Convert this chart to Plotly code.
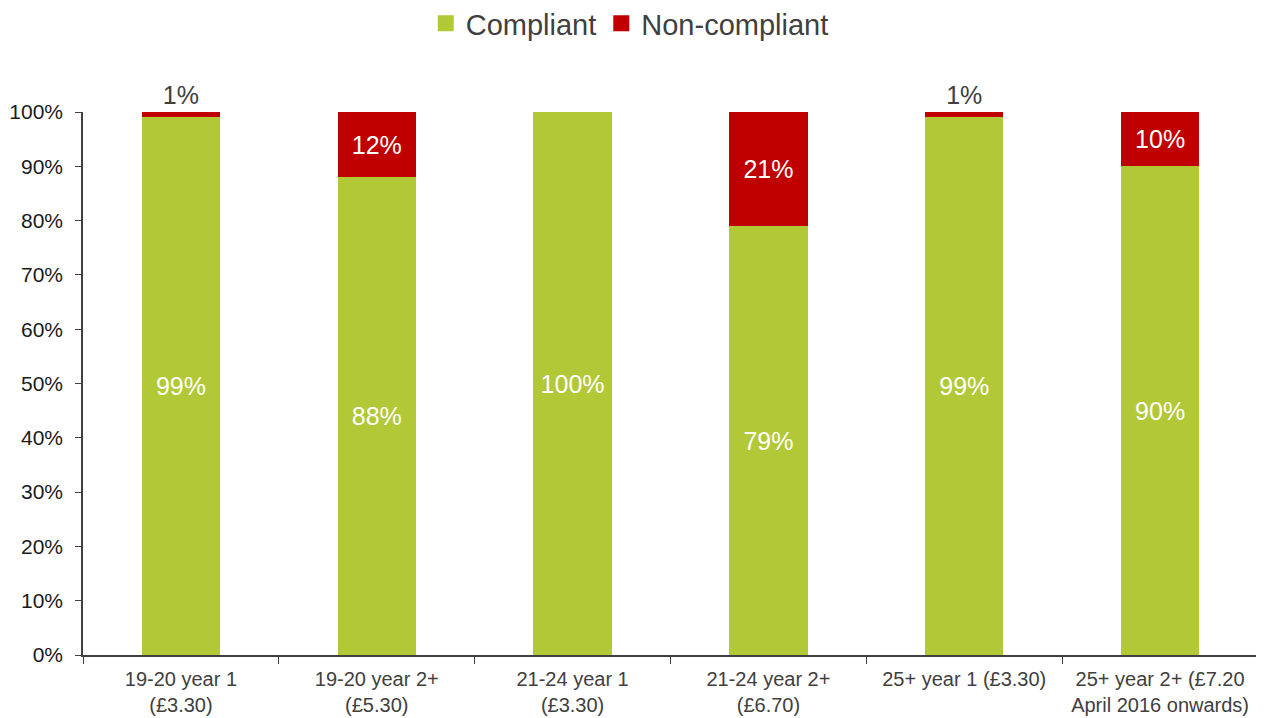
import plotly.graph_objects as go

categories = [
    "19-20 year 1<br>(£3.30)",
    "19-20 year 2+<br>(£5.30)",
    "21-24 year 1<br>(£3.30)",
    "21-24 year 2+<br>(£6.70)",
    "25+ year 1 (£3.30)",
    "25+ year 2+ (£7.20<br>April 2016 onwards)",
]
compliant = [99, 88, 100, 79, 99, 90]
non_compliant = [1, 12, 0, 21, 1, 10]
series_names = ["Compliant", "Non-compliant"]

GREEN = "#B2C837"
RED = "#C00000"
FONT = "Liberation Sans, Arial, sans-serif"

def label(v):
    return f"{v}%" if v > 0 else ""

nc_pos = ["outside" if v < 5 else "inside" for v in non_compliant]
nc_col = ["#404040" if v < 5 else "white" for v in non_compliant]

fig = go.Figure()
fig.add_trace(go.Bar(
    name=series_names[0], x=categories, y=[v / 100 for v in compliant],
    marker=dict(color=GREEN, line=dict(width=0)),
    text=[label(v) for v in compliant], textposition="inside",
    insidetextanchor="middle",
    textfont=dict(family=FONT, size=25, color="white"),
    constraintext="none", cliponaxis=False, showlegend=False,
))
fig.add_trace(go.Bar(
    name=series_names[1], x=categories, y=[v / 100 for v in non_compliant],
    marker=dict(color=RED, line=dict(width=0)),
    text=[label(v) for v in non_compliant], textposition=nc_pos,
    insidetextanchor="middle",
    textfont=dict(family=FONT, size=25, color=nc_col),
    constraintext="none", cliponaxis=False, showlegend=False,
))
# legend entries with larger square swatches
for name, col in zip(series_names, [GREEN, RED]):
    fig.add_trace(go.Scatter(
        x=[None], y=[None], mode="markers", name=name,
        marker=dict(symbol="square", size=16, color=col),
        showlegend=True,
    ))

# page body has an 8px default margin, so the figure is sized to fill the rest
fig.update_layout(
    barmode="stack",
    bargap=0.6,
    width=1256, height=710,
    margin=dict(l=75, r=6, t=104, b=63, autoexpand=False),
    plot_bgcolor="white", paper_bgcolor="white",
    font=dict(family=FONT, size=21, color="#404040"),
    legend=dict(
        orientation="h", xref="container", yref="paper",
        x=0.495, xanchor="center", y=1.21, yanchor="top",
        font=dict(family=FONT, size=29, color="#404040"),
        traceorder="normal", itemwidth=30,
    ),
    xaxis=dict(
        showline=True, linecolor="#404040", linewidth=1.5,
        ticks="outside", ticklen=7, tickcolor="#404040", tickson="boundaries",
        ticklabelstandoff=5,
        tickfont=dict(family=FONT, size=20, color="#404040"),
        showgrid=False, automargin=False,
    ),
    yaxis=dict(
        range=[0, 1.0], dtick=0.1, tickformat=".0%",
        showline=True, linecolor="#404040", linewidth=1.5,
        ticks="outside", ticklen=6, tickcolor="#404040",
        ticklabelstandoff=8,
        tickfont=dict(family=FONT, size=21, color="#1a1a1a"),
        showgrid=False, zeroline=False, automargin=False,
    ),
)

fig.write_html("out.html")
